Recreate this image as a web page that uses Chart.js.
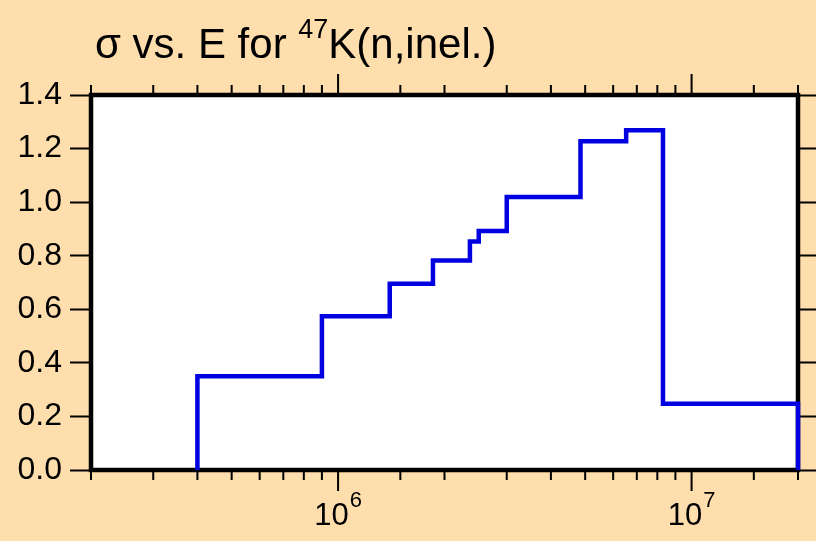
<!DOCTYPE html>
<html>
<head>
<meta charset="utf-8">
<script src="https://cdn.jsdelivr.net/npm/chart.js@4/dist/chart.umd.min.js"></script>
<style>
  html, body { margin: 0; padding: 0; background: #FFDEAD; }
  canvas { display: block; }
</style>
</head>
<body>
<canvas id="myChart" width="816" height="541"></canvas>
<script>
// bin edges (eV) and cross section (b);
// each value holds until the next energy (horizontal first, then vertical)
const energies = [4.0e5, 4.0e5, 9.0e5, 1.4e6, 1.855e6, 2.36e6, 2.5e6, 3.0e6, 4.85e6, 6.53e6, 8.3e6, 2.0e7];
const sigma    = [0.0,   0.350, 0.574, 0.695, 0.782,   0.853,  0.892, 1.019, 1.227,  1.268,  0.247, 0.0];

const xMin = 2e5, xMax = 2e7;
const yMin = 0, yMax = 1.4, yStep = 0.2;
const xMajorTicks = [1e6, 1e7];
const xMajorBase = ['10', '10'];
const xMajorExp = ['6', '7'];

const titleMain = 'σ vs. E for ';
const titleSup = '47';
const titleRest = 'K(n,inel.)';

const FONT = '"Liberation Sans", Arial, sans-serif';

const isMajor = v => xMajorTicks.some(m => Math.abs(v / m - 1) < 1e-6);

const decorPlugin = {
    id: 'decor',
    beforeDraw(chart) {
        const { ctx, chartArea: a } = chart;
        ctx.save();
        ctx.fillStyle = '#FFDEAD';
        ctx.fillRect(0, 0, chart.width, chart.height);
        ctx.fillStyle = '#ffffff';
        ctx.fillRect(a.left, a.top, a.right - a.left, a.bottom - a.top);
        ctx.restore();
    },
    beforeDatasetsDraw(chart) {
        const { ctx, chartArea: a, scales } = chart;
        const xs = scales.x;
        ctx.save();

        // frame
        ctx.strokeStyle = '#000';
        ctx.lineWidth = 4.5;
        ctx.strokeRect(a.left, a.top, a.right - a.left, a.bottom - a.top);

        // x tick marks, bottom and top
        ctx.lineWidth = 2;
        xs.ticks.forEach(t => {
            const px = xs.getPixelForValue(t.value);
            const len = isMajor(t.value) ? 21 : 10;
            ctx.beginPath();
            ctx.moveTo(px, a.bottom);
            ctx.lineTo(px, a.bottom + len);
            ctx.moveTo(px, a.top);
            ctx.lineTo(px, a.top - len);
            ctx.stroke();
        });

        // x labels 10^n
        ctx.fillStyle = '#000';
        ctx.textBaseline = 'alphabetic';
        ctx.textAlign = 'left';
        xMajorTicks.forEach((v, i) => {
            const px = xs.getPixelForValue(v);
            ctx.font = '31px ' + FONT;
            const w1 = ctx.measureText(xMajorBase[i]).width;
            ctx.font = '22px ' + FONT;
            const w2 = ctx.measureText(xMajorExp[i]).width;
            const x0 = px - (w1 + 1 + w2) / 2;
            ctx.font = '31px ' + FONT;
            ctx.fillText(xMajorBase[i], x0, 525);
            ctx.font = '22px ' + FONT;
            ctx.fillText(xMajorExp[i], x0 + w1 + 1, 507);
        });

        // title
        let tx = 95;
        ctx.font = '42px ' + FONT;
        ctx.fillText(titleMain, tx, 58);
        tx += ctx.measureText(titleMain).width;
        ctx.font = '27px ' + FONT;
        ctx.fillText(titleSup, tx, 38);
        tx += ctx.measureText(titleSup).width;
        ctx.font = '42px ' + FONT;
        ctx.fillText(titleRest, tx, 58);

        ctx.restore();
    }
};

const ctx = document.getElementById('myChart').getContext('2d');
new Chart(ctx, {
    type: 'line',
    data: {
        datasets: [{
            data: energies.map((e, i) => ({ x: e, y: sigma[i] })),
            stepped: 'before',
            borderColor: '#0000e0',
            borderWidth: 4.5,
            pointRadius: 0,
            fill: false,
            clip: false
        }]
    },
    options: {
        responsive: false,
        animation: false,
        devicePixelRatio: 1,
        layout: { padding: { top: 95, right: 0, bottom: 0, left: 0 } },
        plugins: {
            legend: { display: false },
            tooltip: { enabled: false },
            title: { display: false }
        },
        scales: {
            x: {
                type: 'logarithmic',
                position: 'bottom',
                min: xMin,
                max: xMax,
                ticks: { display: false },
                grid: { display: false },
                border: { display: false },
                afterFit: s => { s.height = 71; }
            },
            y: {
                position: 'left',
                min: yMin,
                max: yMax,
                ticks: {
                    stepSize: yStep,
                    color: '#000',
                    padding: 8,
                    font: { family: FONT, size: 32 },
                    callback: v => Number(v).toFixed(1)
                },
                grid: {
                    drawOnChartArea: false,
                    drawTicks: true,
                    tickLength: 21,
                    tickWidth: 2,
                    tickColor: '#000'
                },
                border: { display: false },
                afterFit: s => { s.width = 91; }
            },
            y2: {
                position: 'right',
                min: yMin,
                max: yMax,
                ticks: { stepSize: yStep, display: false },
                grid: {
                    drawOnChartArea: false,
                    drawTicks: true,
                    tickLength: 18,
                    tickWidth: 2,
                    tickColor: '#000'
                },
                border: { display: false },
                afterFit: s => { s.width = 18; }
            }
        }
    },
    plugins: [decorPlugin]
});
</script>
</body>
</html>
